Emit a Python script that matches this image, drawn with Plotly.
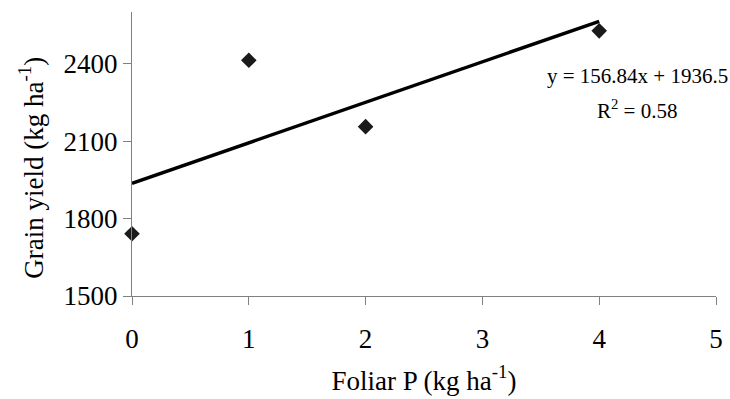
import plotly.graph_objects as go

x_vals = [0, 1, 2, 4]
y_vals = [1741, 2413, 2156, 2527]
slope = 156.84
intercept = 1936.5
fit_x = [0, 4]
fit_y = [intercept + slope * v for v in fit_x]
eq_text = "y = 156.84x + 1936.5"
r2_text = "R<sup>2</sup> = 0.58"
x_title = "Foliar P (kg ha<sup>-1</sup>)"
y_title = "Grain yield (kg ha<sup>-1</sup>)"

font = "Liberation Serif"

fig = go.Figure()
fig.add_trace(go.Scatter(x=fit_x, y=fit_y, mode="lines",
                         line=dict(color="black", width=3.5), showlegend=False))
fig.add_trace(go.Scatter(x=x_vals, y=y_vals, mode="markers",
                         marker=dict(symbol="diamond", size=12, color="#1a1a1a"),
                         showlegend=False, cliponaxis=False))

fig.add_annotation(x=4.325, y=2352, text=eq_text, showarrow=False, xanchor="center",
                   font=dict(family=font, size=21, color="black"))
fig.add_annotation(x=4.32, y=2222, text=r2_text, showarrow=False, xanchor="center",
                   font=dict(family=font, size=21, color="black"))
fig.add_annotation(xref="paper", yref="paper", x=-0.172, y=0.45, text=y_title,
                   textangle=-90, showarrow=False, xanchor="center", yanchor="middle",
                   font=dict(family=font, size=27, color="black"))

fig.update_layout(
    width=730, height=399,
    margin=dict(l=132, r=7, t=12, b=103),
    plot_bgcolor="white", paper_bgcolor="white",
    font=dict(family=font, size=27, color="black"),
)
fig.update_xaxes(range=[0, 5], dtick=1, tick0=0, showgrid=False, zeroline=False,
                 showline=True, linecolor="#808080", linewidth=1,
                 ticks="outside", ticklen=8, tickcolor="#808080",
                 tickfont=dict(family=font, size=27), ticklabelstandoff=11,
                 title=dict(text=x_title, standoff=17,
                            font=dict(family=font, size=27)))
fig.update_yaxes(range=[1500, 2600], tickvals=[1500, 1800, 2100, 2400],
                 showgrid=False, zeroline=False,
                 showline=True, linecolor="#808080", linewidth=1,
                 ticks="outside", ticklen=8, tickcolor="#808080",
                 ticksuffix="\u00a0",
                 tickfont=dict(family=font, size=27))

fig.write_html("out.html")
